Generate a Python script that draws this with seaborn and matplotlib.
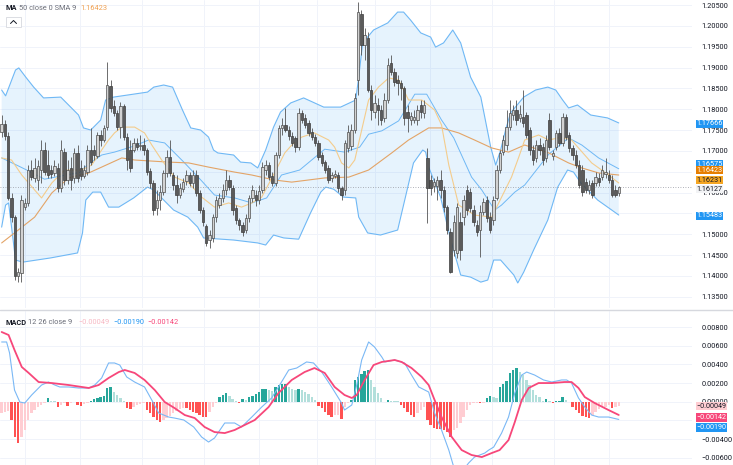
import numpy as np
import seaborn as sns
import matplotlib.pyplot as plt
from matplotlib.lines import Line2D
from matplotlib.patches import Rectangle

sns.set_theme(style='white')
plt.rcParams['font.family'] = ['Roboto', 'DejaVu Sans']

# ---- price candles ----
opens = [1.1745, 1.1764, 1.1736, 1.1587, 1.1541, 1.1400, 1.1407, 1.1565, 1.1575, 1.1654,
         1.1635, 1.1630, 1.1654, 1.1702, 1.1666, 1.1654, 1.1647, 1.1659, 1.1611, 1.1697,
         1.1630, 1.1659, 1.1635, 1.1695, 1.1659, 1.1640, 1.1649, 1.1702, 1.1702, 1.1688,
         1.1738, 1.1726, 1.1757, 1.1856, 1.1808, 1.1791, 1.1757, 1.1808, 1.1733, 1.1702,
         1.1702, 1.1719, 1.1712, 1.1714, 1.1702, 1.1652, 1.1623, 1.1563, 1.1582, 1.1601,
         1.1647, 1.1685, 1.1642, 1.1618, 1.1594, 1.1608, 1.1628, 1.1642, 1.1623, 1.1642,
         1.1599, 1.1558, 1.1520, 1.1486, 1.1491, 1.1541, 1.1570, 1.1587, 1.1606, 1.1630,
         1.1611, 1.1563, 1.1534, 1.1522, 1.1510, 1.1539, 1.1587, 1.1594, 1.1582, 1.1606,
         1.1654, 1.1666, 1.1640, 1.1623, 1.1690, 1.1755, 1.1762, 1.1750, 1.1736, 1.1731,
         1.1709, 1.1791, 1.1779, 1.1767, 1.1745, 1.1733, 1.1719, 1.1690, 1.1673, 1.1659,
         1.1635, 1.1640, 1.1642, 1.1611, 1.1606, 1.1707, 1.1712, 1.1750, 1.1870, 1.2028,
         1.1954, 1.1971, 1.1846, 1.1793, 1.1810, 1.1798, 1.1779, 1.1822, 1.1911, 1.1889,
         1.1870, 1.1863, 1.1851, 1.1793, 1.1774, 1.1774, 1.1774, 1.1810, 1.1791, 1.1683,
         1.1630, 1.1616, 1.1616, 1.1630, 1.1606, 1.1565, 1.1505, 1.1462, 1.1455, 1.1529,
         1.1541, 1.1606, 1.1601, 1.1558, 1.1522, 1.1510, 1.1553, 1.1582, 1.1541, 1.1534,
         1.1587, 1.1654, 1.1697, 1.1714, 1.1757, 1.1786, 1.1798, 1.1779, 1.1781, 1.1786,
         1.1750, 1.1702, 1.1683, 1.1714, 1.1709, 1.1683, 1.1774, 1.1688, 1.1709, 1.1743,
         1.1719, 1.1781, 1.1738, 1.1707, 1.1690, 1.1666, 1.1654, 1.1625, 1.1606, 1.1623,
         1.1623, 1.1635, 1.1637, 1.1644, 1.1642, 1.1630, 1.1606, 1.1599]
highs = [1.1786, 1.1774, 1.1745, 1.1599, 1.1546, 1.1419, 1.1594, 1.1587, 1.1666, 1.1678,
         1.1683, 1.1678, 1.1726, 1.1721, 1.1702, 1.1666, 1.1678, 1.1671, 1.1726, 1.1707,
         1.1678, 1.1685, 1.1707, 1.1714, 1.1678, 1.1666, 1.1714, 1.1755, 1.1714, 1.1745,
         1.1750, 1.1762, 1.1913, 1.1870, 1.1822, 1.1798, 1.1817, 1.1812, 1.1743, 1.1726,
         1.1731, 1.1731, 1.1738, 1.1731, 1.1707, 1.1659, 1.1630, 1.1606, 1.1618, 1.1654,
         1.1702, 1.1726, 1.1649, 1.1642, 1.1623, 1.1635, 1.1654, 1.1649, 1.1654, 1.1654,
         1.1606, 1.1565, 1.1524, 1.1510, 1.1548, 1.1592, 1.1599, 1.1620, 1.1654, 1.1642,
         1.1618, 1.1570, 1.1539, 1.1529, 1.1548, 1.1594, 1.1618, 1.1606, 1.1618, 1.1673,
         1.1678, 1.1673, 1.1649, 1.1697, 1.1762, 1.1779, 1.1803, 1.1760, 1.1745, 1.1736,
         1.1803, 1.1798, 1.1788, 1.1774, 1.1755, 1.1740, 1.1726, 1.1697, 1.1678, 1.1666,
         1.1649, 1.1654, 1.1649, 1.1616, 1.1726, 1.1762, 1.1764, 1.1839, 1.2057, 1.2038,
         1.1995, 1.1985, 1.1858, 1.1834, 1.1827, 1.1810, 1.1839, 1.1923, 1.1930, 1.1899,
         1.1882, 1.1870, 1.1856, 1.1810, 1.1793, 1.1798, 1.1810, 1.1822, 1.1822, 1.1707,
         1.1642, 1.1635, 1.1640, 1.1654, 1.1616, 1.1570, 1.1515, 1.1546, 1.1575, 1.1553,
         1.1594, 1.1618, 1.1611, 1.1570, 1.1534, 1.1570, 1.1587, 1.1592, 1.1553, 1.1592,
         1.1666, 1.1702, 1.1738, 1.1798, 1.1822, 1.1810, 1.1822, 1.1810, 1.1846, 1.1793,
         1.1757, 1.1714, 1.1726, 1.1731, 1.1719, 1.1738, 1.1791, 1.1702, 1.1750, 1.1755,
         1.1791, 1.1788, 1.1745, 1.1714, 1.1702, 1.1678, 1.1666, 1.1635, 1.1630, 1.1630,
         1.1649, 1.1647, 1.1666, 1.1683, 1.1654, 1.1642, 1.1618, 1.1616]
lows = [1.1733, 1.1726, 1.1582, 1.1529, 1.1390, 1.1385, 1.1385, 1.1558, 1.1568, 1.1630,
        1.1625, 1.1606, 1.1623, 1.1642, 1.1635, 1.1635, 1.1640, 1.1601, 1.1601, 1.1618,
        1.1620, 1.1606, 1.1623, 1.1625, 1.1630, 1.1635, 1.1642, 1.1666, 1.1678, 1.1683,
        1.1712, 1.1721, 1.1750, 1.1793, 1.1784, 1.1750, 1.1731, 1.1726, 1.1654, 1.1649,
        1.1697, 1.1702, 1.1702, 1.1690, 1.1642, 1.1611, 1.1546, 1.1546, 1.1558, 1.1594,
        1.1637, 1.1640, 1.1606, 1.1575, 1.1587, 1.1601, 1.1618, 1.1616, 1.1611, 1.1592,
        1.1551, 1.1520, 1.1472, 1.1467, 1.1481, 1.1529, 1.1563, 1.1577, 1.1594, 1.1606,
        1.1546, 1.1524, 1.1510, 1.1496, 1.1503, 1.1529, 1.1577, 1.1568, 1.1572, 1.1599,
        1.1642, 1.1630, 1.1616, 1.1616, 1.1683, 1.1738, 1.1745, 1.1726, 1.1712, 1.1697,
        1.1702, 1.1767, 1.1755, 1.1736, 1.1726, 1.1712, 1.1678, 1.1664, 1.1647, 1.1623,
        1.1625, 1.1635, 1.1601, 1.1582, 1.1594, 1.1697, 1.1702, 1.1743, 1.1834, 1.1930,
        1.1918, 1.1841, 1.1774, 1.1779, 1.1762, 1.1762, 1.1769, 1.1815, 1.1882, 1.1856,
        1.1834, 1.1822, 1.1762, 1.1745, 1.1762, 1.1767, 1.1762, 1.1779, 1.1779, 1.1527,
        1.1594, 1.1601, 1.1582, 1.1587, 1.1553, 1.1500, 1.1407, 1.1448, 1.1443, 1.1438,
        1.1522, 1.1546, 1.1553, 1.1520, 1.1496, 1.1445, 1.1546, 1.1529, 1.1503, 1.1522,
        1.1582, 1.1647, 1.1690, 1.1702, 1.1750, 1.1774, 1.1762, 1.1769, 1.1757, 1.1731,
        1.1690, 1.1666, 1.1673, 1.1690, 1.1666, 1.1673, 1.1702, 1.1678, 1.1702, 1.1712,
        1.1712, 1.1726, 1.1697, 1.1678, 1.1659, 1.1611, 1.1592, 1.1599, 1.1596, 1.1587,
        1.1616, 1.1616, 1.1630, 1.1635, 1.1623, 1.1589, 1.1589, 1.1592]
closes = [1.1764, 1.1736, 1.1587, 1.1541, 1.1400, 1.1409, 1.1582, 1.1575, 1.1654, 1.1637,
          1.1659, 1.1664, 1.1702, 1.1649, 1.1642, 1.1644, 1.1664, 1.1611, 1.1702, 1.1630,
          1.1654, 1.1630, 1.1695, 1.1635, 1.1640, 1.1654, 1.1702, 1.1673, 1.1690, 1.1738,
          1.1726, 1.1755, 1.1858, 1.1803, 1.1791, 1.1757, 1.1808, 1.1733, 1.1678, 1.1659,
          1.1719, 1.1709, 1.1714, 1.1702, 1.1649, 1.1623, 1.1558, 1.1582, 1.1601, 1.1647,
          1.1685, 1.1647, 1.1618, 1.1594, 1.1611, 1.1625, 1.1642, 1.1623, 1.1642, 1.1599,
          1.1558, 1.1529, 1.1479, 1.1498, 1.1541, 1.1582, 1.1587, 1.1606, 1.1630, 1.1613,
          1.1558, 1.1534, 1.1522, 1.1505, 1.1539, 1.1587, 1.1606, 1.1582, 1.1604, 1.1661,
          1.1666, 1.1637, 1.1623, 1.1690, 1.1755, 1.1762, 1.1750, 1.1736, 1.1719, 1.1709,
          1.1791, 1.1774, 1.1762, 1.1743, 1.1733, 1.1719, 1.1685, 1.1671, 1.1654, 1.1630,
          1.1642, 1.1644, 1.1611, 1.1594, 1.1719, 1.1745, 1.1750, 1.1827, 1.2033, 1.1954,
          1.1978, 1.1846, 1.1798, 1.1815, 1.1798, 1.1774, 1.1822, 1.1906, 1.1889, 1.1865,
          1.1863, 1.1851, 1.1779, 1.1779, 1.1784, 1.1781, 1.1798, 1.1793, 1.1810, 1.1611,
          1.1611, 1.1625, 1.1630, 1.1606, 1.1565, 1.1510, 1.1409, 1.1529, 1.1565, 1.1462,
          1.1582, 1.1558, 1.1563, 1.1529, 1.1505, 1.1553, 1.1577, 1.1539, 1.1510, 1.1582,
          1.1654, 1.1695, 1.1726, 1.1757, 1.1791, 1.1798, 1.1774, 1.1788, 1.1767, 1.1738,
          1.1702, 1.1678, 1.1714, 1.1702, 1.1678, 1.1726, 1.1709, 1.1695, 1.1743, 1.1719,
          1.1781, 1.1733, 1.1707, 1.1690, 1.1666, 1.1618, 1.1601, 1.1606, 1.1618, 1.1594,
          1.1637, 1.1625, 1.1654, 1.1649, 1.1630, 1.1594, 1.1594, 1.1613]

# ---- Bollinger bands, moving averages (bar index, price) ----
upper_x = [0, 1.2, 4.2, 5.2, 7.3, 9.7, 12.7, 17.9, 23.3, 24.8, 27.0, 30.0, 31.5, 33.9, 44.2, 46.1,
           49.1, 51.8, 54.8, 57.3, 60.3, 62.7, 64.2, 65.5, 70.3, 72.4, 75.5, 77.6, 80.0, 82.4,
           84.5, 87.6, 91.5, 97.6, 102.7, 107.3, 108.2, 109.4, 112.7, 117.0, 120.0, 121.8,
           123.9, 127.0, 130.0, 131.5, 133.9, 136.7, 139.1, 142.1, 145.2, 148.2, 149.7, 151.2,
           152.7, 154.2, 158.2, 161.8, 165.5, 167.9, 170.0, 171.8, 174.5, 178.5, 183.6, 187.0]
upper_y = [1.1846, 1.1832, 1.1894, 1.1899, 1.1877, 1.1853, 1.1827, 1.1829, 1.1786, 1.1755,
           1.1750, 1.1774, 1.1822, 1.1829, 1.1841, 1.1853, 1.1858, 1.1853, 1.1798, 1.1755,
           1.1750, 1.1733, 1.1702, 1.1695, 1.1690, 1.1673, 1.1671, 1.1659, 1.1702, 1.1757,
           1.1793, 1.1815, 1.1827, 1.1805, 1.1805, 1.1822, 1.1877, 1.1959, 1.1990, 1.2007,
           1.2033, 1.2033, 1.2014, 1.1983, 1.1973, 1.1949, 1.1959, 1.1990, 1.1959, 1.1877,
           1.1829, 1.1709, 1.1666, 1.1702, 1.1750, 1.1791, 1.1829, 1.1846, 1.1853, 1.1846,
           1.1822, 1.1803, 1.1810, 1.1786, 1.1779, 1.1767]
lower_x = [0, 1.2, 2.1, 3.3, 4.2, 6.4, 14.8, 23.0, 24.5, 25.5, 27.6, 30.0, 32.4, 35.5, 40.0,
           44.2, 46.1, 52.1, 56.4, 59.4, 61.2, 70.3, 77.6, 80.0, 82.4, 85.5, 90.0, 93.6, 96.7,
           98.2, 100.6, 103.6, 107.3, 108.2, 110.9, 114.8, 120.0, 124.8, 127.6, 128.5, 129.4,
           133.0, 136.1, 139.1, 142.1, 145.2, 147.3, 149.1, 151.2, 155.2, 156.4, 158.2, 161.2,
           165.5, 168.5, 171.5, 173.3, 175.5, 180.6, 187.0]
lower_y = [1.1517, 1.1570, 1.1575, 1.1498, 1.1438, 1.1433, 1.1443, 1.1455, 1.1503, 1.1582,
           1.1601, 1.1601, 1.1565, 1.1565, 1.1587, 1.1613, 1.1606, 1.1558, 1.1541, 1.1517,
           1.1491, 1.1486, 1.1479, 1.1474, 1.1498, 1.1491, 1.1488, 1.1551, 1.1601, 1.1613,
           1.1608, 1.1589, 1.1587, 1.1541, 1.1503, 1.1498, 1.1510, 1.1671, 1.1702, 1.1697,
           1.1661, 1.1589, 1.1486, 1.1402, 1.1397, 1.1385, 1.1390, 1.1438, 1.1438, 1.1402,
           1.1383, 1.1409, 1.1462, 1.1534, 1.1613, 1.1654, 1.1649, 1.1623, 1.1582, 1.1546]
basis_x = [0, 4.5, 7.6, 13, 18.2, 23.6, 25.8, 30.3, 34.2, 40.3, 44.5, 49.4, 55.2, 60.6, 64.5,
           70.6, 75.8, 80.3, 84.8, 90.3, 97.9, 103.9, 108.5, 111.2, 115.2, 120.3, 125.2, 128.8,
           133.3, 137, 142.4, 145.5, 149.4, 151.5, 155.5, 158.5, 165.8, 171.8, 175.8, 180.9, 187]
basis_y = [1.1683, 1.1666, 1.1654, 1.1632, 1.1640, 1.1648, 1.1665, 1.1690, 1.1697, 1.1712,
           1.1726, 1.1719, 1.1673, 1.1628, 1.1594, 1.1587, 1.1575, 1.1587, 1.1642, 1.1654,
           1.1704, 1.1697, 1.1709, 1.1740, 1.1748, 1.1772, 1.1836, 1.1836, 1.1774, 1.1731,
           1.1637, 1.1606, 1.1558, 1.1570, 1.1601, 1.1618, 1.1692, 1.1731, 1.1714, 1.1683,
           1.1657]
ma50_x = [0, 3.9, 10, 15.2, 20.3, 26.4, 30.3, 36.4, 40.3, 50.6, 56.7, 62.7, 70.6, 75.8, 82.7,
          87.9, 97.9, 105.2, 111.2, 118.2, 123.3, 129.4, 133.3, 138.5, 143.3, 148.5, 153.6,
          158.5, 165.8, 171.8, 175.8, 180.9, 187]
ma50_y = [1.1479, 1.1503, 1.1541, 1.1599, 1.1635, 1.1647, 1.1661, 1.1683, 1.1678, 1.1673,
          1.1671, 1.1661, 1.1649, 1.1642, 1.1630, 1.1625, 1.1635, 1.1637, 1.1654, 1.1695,
          1.1726, 1.1755, 1.1755, 1.1743, 1.1726, 1.1707, 1.1697, 1.1714, 1.1695, 1.1671,
          1.1659, 1.1647, 1.1642]
sma9_x = [0, 3, 6.1, 10, 12.1, 15.2, 19.1, 24.2, 27.3, 30.3, 32.4, 34.2, 36.4, 40.3, 43.3,
          45.5, 48.5, 52.4, 56.7, 60.6, 64.5, 68.8, 72.7, 75.8, 78.8, 82.7, 85.8, 87.9, 90.9,
          94.8, 99.1, 100.9, 103, 105.2, 107, 109.1, 111.2, 114.2, 117.3, 120.3, 123.3, 127.3,
          131.2, 133.3, 135.5, 138.5, 143.3, 148.5, 151.5, 154.5, 156.7, 158.5, 162.7, 165.8,
          169.7, 172.7, 174.8, 178.8, 182.7, 187]
sma9_y = [1.1683, 1.1678, 1.1642, 1.1606, 1.1587, 1.1623, 1.1654, 1.1654, 1.1666, 1.1702,
          1.1726, 1.1743, 1.1757, 1.1757, 1.1743, 1.1714, 1.1678, 1.1637, 1.1623, 1.1589,
          1.1565, 1.1575, 1.1565, 1.1575, 1.1589, 1.1647, 1.1695, 1.1714, 1.1733, 1.1743,
          1.1726, 1.1709, 1.1671, 1.1659, 1.1678, 1.1750, 1.1822, 1.1853, 1.1875, 1.1870,
          1.1822, 1.1822, 1.1798, 1.1762, 1.1666, 1.1570, 1.1546, 1.1541, 1.1589, 1.1637,
          1.1685, 1.1726, 1.1738, 1.1726, 1.1733, 1.1726, 1.1707, 1.1671, 1.1649, 1.1623]

# ---- MACD panel ----
macd_x = [0, 1.5, 2.4, 3.9, 5.5, 7.0, 9.1, 12.1, 14.2, 16.1, 17.6, 20.3, 23.3, 26.4, 28.2,
          30.3, 32.4, 34.2, 35.8, 37.9, 40.3, 43.3, 45.5, 47.6, 50.6, 52.4, 55.2, 58.2, 60.6,
          62.7, 64.5, 67.6, 70.6, 72.7, 75.8, 78.8, 81.8, 83.9, 87, 89.4, 92.4, 94.5, 97, 100,
          103, 103.9, 106.1, 107.6, 109.1, 111.2, 113, 115.2, 116.1, 119.1, 122.1, 124.2,
          126.4, 129.4, 131.2, 133.3, 135.5, 137, 139.4, 141.5, 143.3, 146.4, 147.6, 149.1,
          151.5, 153.6, 155.5, 157.6, 159.1, 161.5, 164.2, 166.7, 169.7, 171.2, 172.7, 174.8,
          176.7, 178.8, 180.9, 183.9, 187]
macd_y = [0.00640, 0.00640, 0.00522, 0.00125, -0.00003, -0.00014, 0.00072, 0.00179, 0.00211,
          0.00179, 0.00158, 0.00158, 0.00147, 0.00147, 0.00179, 0.00254, 0.00415, 0.00415,
          0.00393, 0.00265, 0.00211, 0.00158, 0.00018, -0.00121, -0.00164, -0.00175, -0.00196,
          -0.00271, -0.00378, -0.00432, -0.00389, -0.00228, -0.00228, -0.00271, -0.00164,
          -0.00057, 0.00040, 0.00158, 0.00340, 0.00361, 0.00426, 0.00415, 0.00318, 0.00158,
          -0.00014, -0.00089, -0.00035, 0.00179, 0.00447, 0.00640, 0.00586, 0.00479, 0.00426,
          0.00447, 0.00415, 0.00286, 0.00158, 0.00104, -0.00121, -0.00303, -0.00518, -0.00700,
          -0.00754, -0.00657, -0.00593, -0.00550, -0.00518, -0.00486, -0.00336, -0.00164,
          0.00093, 0.00286, 0.00318, 0.00286, 0.00233, 0.00211, 0.00233, 0.00233, 0.00200,
          0.00040, -0.00057, -0.00143, -0.00164, -0.00164, -0.00190]
signal_x = [0, 2.1, 3.9, 6.1, 8.2, 11.2, 15.2, 20.3, 26.4, 29.4, 32.4, 35.5, 37.3, 40.3, 43.3,
            46.4, 49.4, 52.4, 55.5, 58.5, 61.5, 64.5, 67.6, 70.6, 73.6, 76.7, 80.9, 83.9, 87.9,
            91.8, 94.8, 97.9, 100.9, 103.9, 106.1, 107.6, 110, 112.7, 115.2, 119.1, 121.2,
            124.2, 127.3, 129.4, 131.2, 133.3, 136.4, 139.4, 142.4, 145.5, 148.5, 150.9, 153.6,
            155.5, 157.6, 159.7, 162.7, 166.7, 170.6, 172.7, 174.8, 176.7, 179.7, 183.9, 187]
signal_y = [0.00747, 0.00715, 0.00554, 0.00372, 0.00308, 0.00211, 0.00200, 0.00179, 0.00147,
            0.00179, 0.00254, 0.00318, 0.00340, 0.00308, 0.00233, 0.00125, -0.00003, -0.00068,
            -0.00143, -0.00175, -0.00271, -0.00325, -0.00336, -0.00303, -0.00250, -0.00196,
            -0.00057, 0.00093, 0.00233, 0.00318, 0.00361, 0.00308, 0.00158, 0.00072, 0.00040,
            0.00072, 0.00233, 0.00393, 0.00426, 0.00447, 0.00426, 0.00361, 0.00265, 0.00179,
            0.00018, -0.00164, -0.00378, -0.00518, -0.00571, -0.00593, -0.00550, -0.00518,
            -0.00411, -0.00218, 0.00018, 0.00147, 0.00200, 0.00200, 0.00211, 0.00211, 0.00147,
            0.00050, -0.00014, -0.00089, -0.00142]
hist = [-0.00125, -0.00107, -0.00100, -0.00196, -0.00375, -0.00446, -0.00375, -0.00303, -0.00196, -0.00125,
        -0.00089, -0.00061, -0.00036, -0.00018, 0.00036, 0.00011, 0.00004, -0.00054, -0.00036, -0.00018,
        -0.00043, -0.00018, -0.00007, -0.00036, -0.00043, -0.00029, -0.00018, 0.00011, 0.00025, 0.00036,
        0.00046, 0.00061, 0.00143, 0.00154, 0.00107, 0.00071, 0.00036, 0.00011, -0.00071, -0.00082,
        -0.00054, -0.00036, -0.00025, -0.00018, -0.00089, -0.00125, -0.00161, -0.00196, -0.00214, -0.00196,
        -0.00179, -0.00154, -0.00125, -0.00100, -0.00082, -0.00064, -0.00071, -0.00089, -0.00107, -0.00125,
        -0.00143, -0.00161, -0.00168, -0.00107, -0.00054, -0.00018, 0.00046, 0.00071, 0.00089, 0.00061,
        0.00025, 0.00007, -0.00018, 0.00025, 0.00018, 0.00046, 0.00061, 0.00082, 0.00107, 0.00132,
        0.00139, 0.00125, 0.00118, 0.00154, 0.00179, 0.00189, 0.00193, 0.00154, 0.00132, 0.00125,
        0.00132, 0.00125, 0.00107, 0.00082, 0.00054, 0.00018, -0.00046, -0.00071, -0.00107, -0.00143,
        -0.00161, -0.00146, -0.00139, -0.00189, -0.00054, -0.00011, 0.00018, 0.00232, 0.00268, 0.00296,
        0.00328, 0.00339, 0.00232, 0.00161, 0.00089, 0.00036, -0.00007, 0.00018, 0.00011, 0.00007,
        0.00004, -0.00036, -0.00071, -0.00107, -0.00143, -0.00161, -0.00125, -0.00089, -0.00054, -0.00196,
        -0.00250, -0.00286, -0.00289, -0.00293, -0.00303, -0.00321, -0.00375, -0.00303, -0.00286, -0.00232,
        -0.00161, -0.00089, -0.00036, -0.00018, -0.00011, -0.00018, -0.00014, 0.00036, 0.00061, 0.00046,
        0.00043, 0.00154, 0.00189, 0.00225, 0.00303, 0.00339, 0.00357, 0.00321, 0.00286, 0.00232,
        0.00179, 0.00125, 0.00071, 0.00046, 0.00011, 0.00025, 0.00007, -0.00011, 0.00007, 0.00011,
        0.00046, 0.00018, -0.00007, -0.00054, -0.00089, -0.00125, -0.00154, -0.00168, -0.00171, -0.00143,
        -0.00107, -0.00082, -0.00061, -0.00054, -0.00036, -0.00064, -0.00054, -0.00049]

grid_bars = [7.0, 23.6, 42.4, 61.2, 77.9, 95.5, 113.0, 129.7, 148.5, 167.3, 184.0]
price_ticks = [1.135, 1.14, 1.145, 1.15, 1.155, 1.16, 1.165, 1.17, 1.175, 1.18, 1.185, 1.19, 1.195, 1.2, 1.205]
macd_ticks = [-0.006, -0.004, -0.002, 0.0, 0.002, 0.004, 0.006, 0.008]
# tick labels that sit fully under the value tags on the right scale
price_hidden = [1.155, 1.165]
macd_hidden = [-0.002]

W, H = 733, 465
fig = plt.figure(figsize=(W / 100, H / 100), dpi=100)
ax = fig.add_axes([0, 1 - 308 / H, 692 / W, 308 / H])
ax2 = fig.add_axes([0, 0, 692 / W, 154 / H])

idx = np.arange(len(closes))
o, h, l, c = (np.array(v) for v in (opens, highs, lows, closes))
up = c >= o

# bands
ax.fill(np.concatenate([upper_x, lower_x[::-1]]), np.concatenate([upper_y, lower_y[::-1]]),
        color='#2196f3', alpha=0.11, lw=0, zorder=1)
band_col = '#6fb8f5'
sns.lineplot(x=upper_x, y=upper_y, ax=ax, color=band_col, linewidth=0.8, zorder=2)
sns.lineplot(x=lower_x, y=lower_y, ax=ax, color=band_col, linewidth=0.8, zorder=2)
sns.lineplot(x=basis_x, y=basis_y, ax=ax, color=band_col, linewidth=0.7, zorder=2)
sns.lineplot(x=ma50_x, y=ma50_y, ax=ax, color='#e3a467', linewidth=0.8, zorder=2)
sns.lineplot(x=sma9_x, y=sma9_y, ax=ax, color='#f4cc8c', linewidth=0.8, zorder=2)

# candles
ax.vlines(idx, l, h, color='#555555', lw=0.6, zorder=3)
ax.bar(idx[up], (c - o)[up], bottom=o[up], width=0.7, color='#d2d2d2',
       edgecolor='#4d4d4d', linewidth=0.5, zorder=4)
ax.bar(idx[~up], (o - c)[~up], bottom=c[~up], width=0.7, color='#5b5b5b',
       edgecolor='#3d3d3d', linewidth=0.5, zorder=4)
ax.axhline(closes[-1], color='#9598a1', lw=0.6, ls=(0, (1, 2)), zorder=2)

# MACD histogram colours
hcol = []
prev = None
for v in hist:
    rising = prev is None or v > prev
    if v >= 0:
        hcol.append('#26a69a' if rising else '#b2dfdb')
    else:
        hcol.append('#ffcdd2' if rising else '#ff5252')
    prev = v
ax2.bar(idx, hist, width=0.75, color=hcol, lw=0, zorder=2)
sns.lineplot(x=macd_x, y=macd_y, ax=ax2, color='#7ab8f5', linewidth=0.8, zorder=3)
sns.lineplot(x=signal_x, y=signal_y, ax=ax2, color='#f7477a', linewidth=1.3, zorder=3)

xmax = 692 / 3.3 - 0.5
ax.set_xlim(-0.5, xmax)
ax2.set_xlim(-0.5, xmax)
ax.set_ylim(1.13229, 1.20620)
ax2.set_ylim(-0.00678, 0.00972)
ax.set_yticks(price_ticks)
ax.set_yticklabels(['' if t in price_hidden else f'{t:.5f}' for t in price_ticks])
ax2.set_yticks(macd_ticks)
ax2.set_yticklabels(['' if t in macd_hidden else f'{t:.5f}'.replace('-', '\u2212')
                     for t in macd_ticks])

for a in (ax, ax2):
    a.set_xlabel('')
    a.set_ylabel('')
    a.yaxis.tick_right()
    a.set_xticks(grid_bars)
    a.tick_params(axis='x', length=0, labelbottom=False)
    a.tick_params(axis='y', length=0, pad=7, labelsize=5.3, labelcolor='#131722')
    for s in a.spines.values():
        s.set_visible(False)
    a.grid(True, color='#f0f3fa', lw=0.7)
    a.set_axisbelow(True)


def tag(axis, value, text, fc, tc, dy=0.0):
    axis.annotate(text, xy=(1, value), xycoords=axis.get_yaxis_transform(),
                  xytext=(3, dy), textcoords='offset points', ha='left', va='center',
                  fontsize=5.2, color=tc, annotation_clip=False, zorder=20,
                  bbox=dict(boxstyle='square,pad=0.08', fc=fc, ec='none'))


tag(ax, 1.17666, '1.17666', '#2196f3', 'white', -0.5)
tag(ax, 1.16575, '1.16575', '#2196f3', 'white', 3.2)
tag(ax, 1.16423, '1.16423', '#e67e00', 'white', 3.3)
tag(ax, 1.16231, '1.16231', '#f5a623', '#131722', 2.0)
tag(ax, closes[-1], '1.16127', '#f2f3f5', '#131722', -1.5)
tag(ax, 1.15483, '1.15483', '#2196f3', 'white', -1.2)
tag(ax2, hist[-1], '\u22120.00049', '#ffcdd2', '#131722', 0)
tag(ax2, signal_y[-1], '\u22120.00142', '#f7477a', 'white', -1.8)
tag(ax2, macd_y[-1], '\u22120.00190', '#2196f3', 'white', -5.8)

# panel separator
fig.add_artist(Line2D([0, 1], [1 - 310 / H] * 2, color='#d6d8de', lw=1.0))

# legends
fs = 5.3
fig.text(5 / W, 1 - 8 / H, 'MA', fontsize=fs, color='#131722', va='center', fontweight='bold')
fig.text(19 / W, 1 - 8 / H, '50 close 0 SMA 9', fontsize=fs, color='#6a6d78', va='center')
fig.text(80 / W, 1 - 8 / H, '1.16423', fontsize=fs, color='#f0a050', va='center')
fig.add_artist(Rectangle((6 / W, 1 - 27 / H), 15 / W, 10 / H, transform=fig.transFigure,
                         fc='white', ec='#d6d8de', lw=0.6))
fig.add_artist(Line2D([10.5 / W, 13.5 / W, 16.5 / W], [1 - 23.5 / H, 1 - 20.5 / H, 1 - 23.5 / H],
                      color='#131722', lw=0.7))
fig.text(5 / W, 1 - 323 / H, 'MACD', fontsize=fs, color='#131722', va='center', fontweight='bold')
fig.text(28 / W, 1 - 323 / H, '12 26 close 9', fontsize=fs, color='#6a6d78', va='center')
fig.text(78 / W, 1 - 323 / H, '\u22120.00049', fontsize=fs, color='#f7b9c4', va='center')
fig.text(113 / W, 1 - 323 / H, '\u22120.00190', fontsize=fs, color='#2196f3', va='center')
fig.text(147 / W, 1 - 323 / H, '\u22120.00142', fontsize=fs, color='#f7477a', va='center')

fig.savefig('out.png', dpi=100)
